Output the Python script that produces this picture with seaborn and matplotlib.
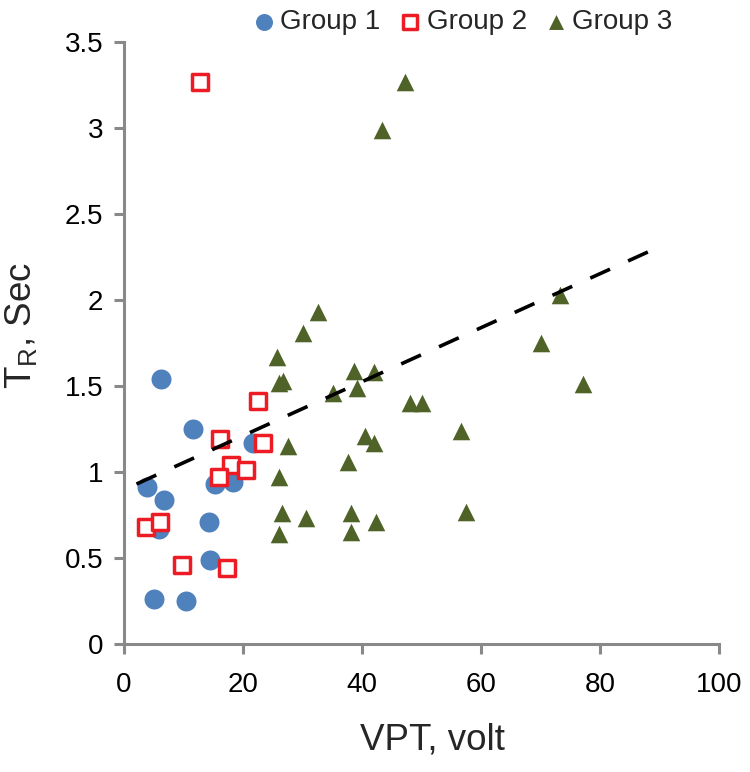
import numpy as np
import pandas as pd
import seaborn as sns
import matplotlib.pyplot as plt
from matplotlib.ticker import FuncFormatter

# values
g1_x = [6.2, 11.6, 21.6, 3.9, 6.7, 15.3, 18.4, 5.9, 14.3, 14.5, 5.1, 10.4]
g1_y = [1.54, 1.25, 1.17, 0.91, 0.84, 0.93, 0.94, 0.67, 0.71, 0.49, 0.26, 0.25]

g2_x = [12.7, 22.6, 16.1, 23.3, 17.9, 20.5, 16.0, 3.7, 6.0, 9.7, 17.3]
g2_y = [3.27, 1.41, 1.19, 1.17, 1.04, 1.01, 0.97, 0.68, 0.71, 0.46, 0.44]

g3_x = [47.2, 43.3, 73.2, 32.6, 30.1, 70.1, 25.7, 38.7, 42.1, 26.1, 26.8, 39.1,
        77.2, 35.1, 48.1, 50.1, 56.6, 40.5, 42.1, 27.6, 37.6, 26.1, 57.4, 26.6,
        38.2, 30.6, 42.3, 38.2, 26.1]
g3_y = [3.27, 2.99, 2.03, 1.93, 1.81, 1.75, 1.67, 1.59, 1.58, 1.52, 1.53, 1.49,
        1.51, 1.46, 1.40, 1.40, 1.24, 1.21, 1.17, 1.15, 1.06, 0.97, 0.77, 0.76,
        0.76, 0.73, 0.71, 0.65, 0.64]

trend_x = [2.1, 88.1]
trend_y = [0.93, 2.28]

x_ticks = [0, 20, 40, 60, 80, 100]
y_ticks = [0, 0.5, 1, 1.5, 2, 2.5, 3, 3.5]

df = pd.concat([
    pd.DataFrame({'vpt': g1_x, 'tr': g1_y, 'group': 'Group 1'}),
    pd.DataFrame({'vpt': g2_x, 'tr': g2_y, 'group': 'Group 2'}),
    pd.DataFrame({'vpt': g3_x, 'tr': g3_y, 'group': 'Group 3'}),
])

sns.set_theme(style='white')
plt.rcParams['font.family'] = ['Liberation Sans', 'DejaVu Sans']
plt.rcParams['mathtext.fontset'] = 'custom'
plt.rcParams['mathtext.rm'] = 'Liberation Sans'

axis_gray = '#898989'

fig = plt.figure(figsize=(7.5, 7.72), dpi=100)
ax = fig.add_axes([124 / 750, 1 - 644 / 772, 595 / 750, 602 / 772])

sns.scatterplot(data=df[df.group == 'Group 1'], x='vpt', y='tr', ax=ax,
                marker='o', s=207, color='#4F81BD', edgecolor='#4F81BD',
                linewidth=0, label='Group 1', zorder=3)
sns.scatterplot(data=df[df.group == 'Group 2'], x='vpt', y='tr', ax=ax,
                marker='s', s=141, facecolor='white', edgecolor='#ED1C24',
                linewidth=2.5, label='Group 2', zorder=4)
sns.scatterplot(data=df[df.group == 'Group 3'], x='vpt', y='tr', ax=ax,
                marker='^', s=160, color='#4F6228', edgecolor='#4F6228',
                linewidth=0, label='Group 3', zorder=3)

sns.lineplot(x=trend_x, y=trend_y, ax=ax, color='black', linewidth=2.6,
             linestyle=(0, (6, 5.5)), zorder=5)

ax.set_xlim(0, 100)
ax.set_ylim(0, 3.5)
ax.set_xticks(x_ticks)
ax.set_yticks(y_ticks)
ax.yaxis.set_major_formatter(FuncFormatter(lambda v, p: f'{v:g}'))

for side in ['top', 'right']:
    ax.spines[side].set_visible(False)
for side in ['left', 'bottom']:
    ax.spines[side].set_color(axis_gray)
    ax.spines[side].set_linewidth(2.2)
ax.tick_params(axis='both', direction='out', length=7, width=2.2,
               color=axis_gray, labelsize=20, labelcolor='black',
               bottom=True, left=True)
ax.tick_params(axis='y', pad=8)
ax.tick_params(axis='x', pad=13)

ax.set_xlabel('VPT, volt', fontsize=26.5, va='top')
ax.set_ylabel(r'T$_\mathregular{R}$, Sec', fontsize=26.5, va='center')
ax.xaxis.set_label_coords(0.519, -0.131)
ax.yaxis.set_label_coords(-0.171, 0.53)

ax.legend(loc='center', bbox_to_anchor=(462 / 750, 1 - 22 / 772),
          bbox_transform=fig.transFigure, ncol=3, frameon=False, fontsize=20,
          handlelength=0.9, handletextpad=0.15, columnspacing=0.6,
          borderaxespad=0, markerscale=0.85)

fig.savefig('out.png', dpi=100)
